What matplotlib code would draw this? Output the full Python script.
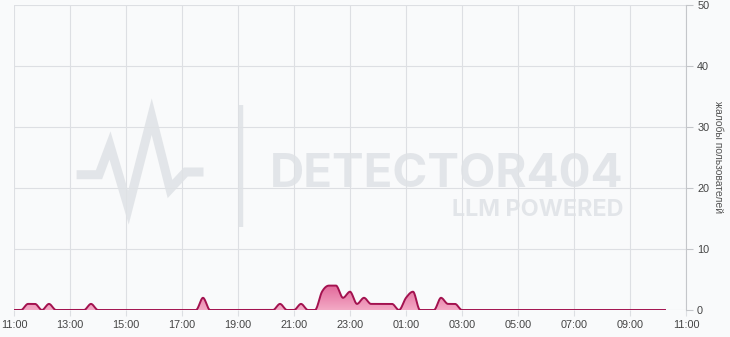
import numpy as np
import pandas as pd
import matplotlib
matplotlib.use('Agg')
import matplotlib.pyplot as plt
import matplotlib.dates as mdates
from matplotlib.colors import LinearSegmentedColormap
from matplotlib.patches import Polygon

# complaints per 15-minute bucket, starting 11:00
start = pd.Timestamp('2024-05-01 11:00')
times = pd.date_range(start, periods=94, freq='15min')
complaints = [
    0, 0, 1, 1, 0, 1, 0, 0, 0, 0,
    0, 1, 0, 0, 0, 0, 0, 0, 0, 0,
    0, 0, 0, 0, 0, 0, 0, 2, 0, 0,
    0, 0, 0, 0, 0, 0, 0, 0, 1, 0,
    0, 1, 0, 0, 3, 4, 4, 2, 3, 1,
    2, 1, 1, 1, 1, 0, 2, 3, 0, 0,
    0, 2, 1, 1, 0, 0, 0, 0, 0, 0,
    0, 0, 0, 0, 0, 0, 0, 0, 0, 0,
    0, 0, 0, 0, 0, 0, 0, 0, 0, 0,
    0, 0, 0, 0,
]
x_ticks = pd.date_range(start, periods=13, freq='2h')
y_ticks = [0, 10, 20, 30, 40, 50]
y_label = 'жалобы пользователей'

BG = '#f9fafb'
GRID = '#dddfe3'
LINE = '#a3124f'


def monotone_curve(x, y, per_seg=16):
    """Monotone cubic (like d3.curveMonotoneX) through the given points."""
    x = np.asarray(x, float)
    y = np.asarray(y, float)
    h = np.diff(x)
    s = np.diff(y) / h
    t = np.zeros_like(y)
    for i in range(1, len(y) - 1):
        s0, s1 = s[i - 1], s[i]
        p = (s0 * h[i] + s1 * h[i - 1]) / (h[i - 1] + h[i])
        t[i] = (np.sign(s0) + np.sign(s1)) * min(abs(s0), abs(s1), 0.5 * abs(p))
    t[0] = (3 * s[0] - t[1]) / 2
    t[-1] = (3 * s[-1] - t[-2]) / 2
    xs, ys = [], []
    u = np.linspace(0, 1, per_seg, endpoint=False)
    for i in range(len(h)):
        h00 = 2 * u**3 - 3 * u**2 + 1
        h10 = u**3 - 2 * u**2 + u
        h01 = -2 * u**3 + 3 * u**2
        h11 = u**3 - u**2
        xs.append(x[i] + u * h[i])
        ys.append(h00 * y[i] + h10 * h[i] * t[i] + h01 * y[i + 1] + h11 * h[i] * t[i + 1])
    xs.append([x[-1]])
    ys.append([y[-1]])
    return np.concatenate(xs), np.concatenate(ys)


fig = plt.figure(figsize=(7.30, 3.37), dpi=100, facecolor=BG)
ax = fig.add_axes([14 / 730, 27 / 337, 672 / 730, 305 / 337])
ax.set_facecolor(BG)

xnum = mdates.date2num(times)
cx, cy = monotone_curve(xnum, complaints)
cy = np.clip(cy, 0, None)

# gradient fill under the curve
poly = Polygon(np.column_stack([np.r_[cx, cx[-1], cx[0]], np.r_[cy, 0, 0]]),
               closed=True, facecolor='none', edgecolor='none')
ax.add_patch(poly)
cmap = LinearSegmentedColormap.from_list('pink', ['#f3aac5', '#e2689a'])
grad = np.linspace(0, 1, 256).reshape(-1, 1)
img = ax.imshow(grad, extent=[cx[0], cx[-1], 0, max(complaints)], origin='lower',
                aspect='auto', cmap=cmap, zorder=2)
img.set_clip_path(poly)
ax.plot(cx, cy, color=LINE, linewidth=1.4, zorder=3, solid_joinstyle='round')

ax.set_xlim(mdates.date2num(x_ticks[0]), mdates.date2num(x_ticks[-1]))
ax.set_ylim(0, 50)

ax.set_xticks(mdates.date2num(x_ticks))
ax.set_xticklabels(x_ticks.strftime('%H:%M'))
ax.yaxis.tick_right()
ax.yaxis.set_label_position('right')
ax.set_yticks(y_ticks)

ax.grid(True, color=GRID, linewidth=0.8, zorder=0)
ax.set_axisbelow(True)
for side in ['top', 'left', 'bottom']:
    ax.spines[side].set_visible(False)
ax.spines['right'].set_color('#c4c6ca')
ax.spines['right'].set_linewidth(0.8)

ax.tick_params(axis='x', length=4, width=0.8, color=GRID, pad=3,
               labelsize=7.8, labelcolor='#444444')
ax.tick_params(axis='y', length=5, width=0.8, color='#c4c6ca', pad=3,
               labelsize=7.8, labelcolor='#444444')
for lab in ax.get_xticklabels() + ax.get_yticklabels():
    lab.set_family('Liberation Sans')
ax.set_ylabel(y_label, rotation=270, fontsize=7.5, color='#555555',
              family='Liberation Sans')
ax.yaxis.set_label_coords(1.055, 0.5)

# watermark overlay in pixel coordinates
wm = fig.add_axes([0, 0, 1, 1], zorder=5)
wm.set_xlim(0, 730)
wm.set_ylim(337, 0)
wm.axis('off')
wm.patch.set_alpha(0)
WM = '#dfe2e6'
WA = 0.85
icon_x = [76.6, 99, 110, 128.4, 151.7, 170, 185.8, 203.5]
icon_y = [174.7, 174.7, 145.5, 207.6, 116.6, 189, 172, 172]
wm.plot(icon_x, icon_y, color=WM, alpha=WA, linewidth=6.5,
        solid_joinstyle='miter', solid_capstyle='butt')
wm.plot([241, 241], [105, 227], color=WM, alpha=WA, linewidth=3.2,
        solid_capstyle='butt')
t1 = wm.text(270, 187, 'DETECTOR404', fontsize=38, fontweight='bold',
             family=['Inter', 'DejaVu Sans'], color=WM, alpha=WA,
             ha='left', va='baseline')
t2 = wm.text(623, 216, 'LLM POWERED', fontsize=17, fontweight='bold',
             family=['Inter', 'DejaVu Sans'], color=WM, alpha=WA,
             ha='right', va='baseline')

fig.canvas.draw()
renderer = fig.canvas.get_renderer()
for t, target in [(t1, 354), (t2, 171)]:
    w = t.get_window_extent(renderer).width
    t.set_fontsize(t.get_fontsize() * target / w)

fig.savefig('out.png', dpi=100, facecolor=BG)
